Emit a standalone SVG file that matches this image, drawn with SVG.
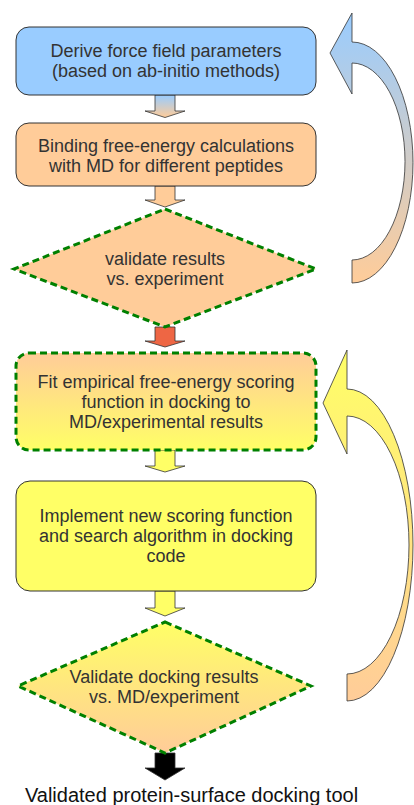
<svg xmlns="http://www.w3.org/2000/svg" width="414" height="805" viewBox="0 0 414 805">
  <defs>
    <linearGradient id="gBlueOrange" x1="0" y1="0" x2="0" y2="1">
      <stop offset="0" stop-color="#99ccff"/>
      <stop offset="1" stop-color="#ffcc99"/>
    </linearGradient>
    <linearGradient id="gOrangeYellow" x1="0" y1="0" x2="0" y2="1">
      <stop offset="0" stop-color="#ffcc99"/>
      <stop offset="1" stop-color="#ffff66"/>
    </linearGradient>
    <linearGradient id="gYellowOrange" x1="0" y1="0" x2="0" y2="1">
      <stop offset="0" stop-color="#ffff66"/>
      <stop offset="1" stop-color="#ffcc99"/>
    </linearGradient>
    <linearGradient id="gLoopBlue" x1="0" y1="0" x2="0" y2="1">
      <stop offset="0" stop-color="#99ccff"/>
      <stop offset="1" stop-color="#ffcc99"/>
    </linearGradient>
    <linearGradient id="gLoopYellow" x1="0" y1="0" x2="0" y2="1">
      <stop offset="0" stop-color="#ffff66"/>
      <stop offset="1" stop-color="#ffcc99"/>
    </linearGradient>
  </defs>
  <style>
    .box { stroke: #333333; stroke-width: 1; }
    .dash { stroke: #008000; stroke-width: 3; stroke-dasharray: 7 4; }
    .arrow { stroke: #333333; stroke-width: 0.8; stroke-linejoin: miter; }
    .label { font-family: "Liberation Sans", Arial, sans-serif; font-size: 18px; fill: #333333; text-anchor: middle; }
    .final { font-family: "Liberation Sans", Arial, sans-serif; font-size: 20px; fill: #111111; text-anchor: middle; }
  </style>

  <!-- connectors: block arrows between steps and the two feedback loops -->
  <g id="connectors">
    <path class="arrow" fill="url(#gBlueOrange)" d="M155,95 L175,95 L175,111 L185,111 L165,117.5 L145,111 L155,111 Z"/>
    <path class="arrow" fill="#ffcc99" d="M155,186 L175,186 L175,200 L185,200 L165,207 L145,200 L155,200 Z"/>
    <path class="arrow" fill="#ee6644" d="M155,327 L175,327 L175,341 L185,341 L165,347 L145,341 L155,341 Z"/>
    <path class="arrow" fill="#ffff66" d="M155,450 L175,450 L175,466 L185,466 L165,472 L145,466 L155,466 Z"/>
    <path class="arrow" fill="#ffff66" d="M155,591 L175,591 L175,608 L185,608 L165,616 L145,608 L155,608 Z"/>
    <path class="arrow" fill="#000000" d="M155,753 L175,753 L175,768 L185,768 L165,780 L145,768 L155,768 Z"/>

    <path id="loop1" class="arrow" fill="url(#gLoopBlue)" d="M352,13 L330,53 L352,94 L352,63 A53,98.5 0 0 1 352,260 L352,283 A61,120.5 0 0 0 352,42 Z"/>
    <path id="loop2" class="arrow" fill="url(#gLoopYellow)" d="M347,350 L323,403 L347,454 L347,416 A62,129 0 0 1 347,674 L347,701 A66,156 0 0 0 347,389 Z"/>
  </g>

  <g id="n1">
    <rect class="box" x="16" y="27" width="300" height="68" rx="13" fill="#99ccff"/>
    <text class="label" x="166" y="57">Derive force field parameters</text>
    <text class="label" x="166" y="77">(based on ab-initio methods)</text>
  </g>

  <g id="n2">
    <rect class="box" x="16" y="123" width="300" height="63" rx="13" fill="#ffcc99"/>
    <text class="label" x="166" y="152">Binding free-energy calculations</text>
    <text class="label" x="166" y="172">with MD for different peptides</text>
  </g>

  <g id="n3">
    <polygon class="dash" fill="#ffcc99" points="165,209 316,269 165,327 14,269"/>
    <text class="label" x="165" y="265">validate results</text>
    <text class="label" x="165" y="285">vs. experiment</text>
  </g>

  <g id="n4">
    <rect class="dash" x="16" y="353" width="300" height="97" rx="13" fill="url(#gOrangeYellow)"/>
    <text class="label" x="166" y="388">Fit empirical free-energy scoring</text>
    <text class="label" x="166" y="408">function in docking to</text>
    <text class="label" x="166" y="428">MD/experimental results</text>
  </g>

  <g id="n5">
    <rect class="box" x="16" y="481" width="300" height="110" rx="14" fill="#ffff66"/>
    <text class="label" x="166" y="522">Implement new scoring function</text>
    <text class="label" x="166" y="542">and search algorithm in docking</text>
    <text class="label" x="166" y="562">code</text>
  </g>

  <g id="n6">
    <polygon class="dash" fill="url(#gYellowOrange)" points="165,622 311,686 165,753 18,686"/>
    <text class="label" x="164" y="683">Validate docking results</text>
    <text class="label" x="164" y="703">vs. MD/experiment</text>
  </g>

  <g id="n7">
    <text class="final" x="191.5" y="802">Validated protein-surface docking tool</text>
  </g>
</svg>
